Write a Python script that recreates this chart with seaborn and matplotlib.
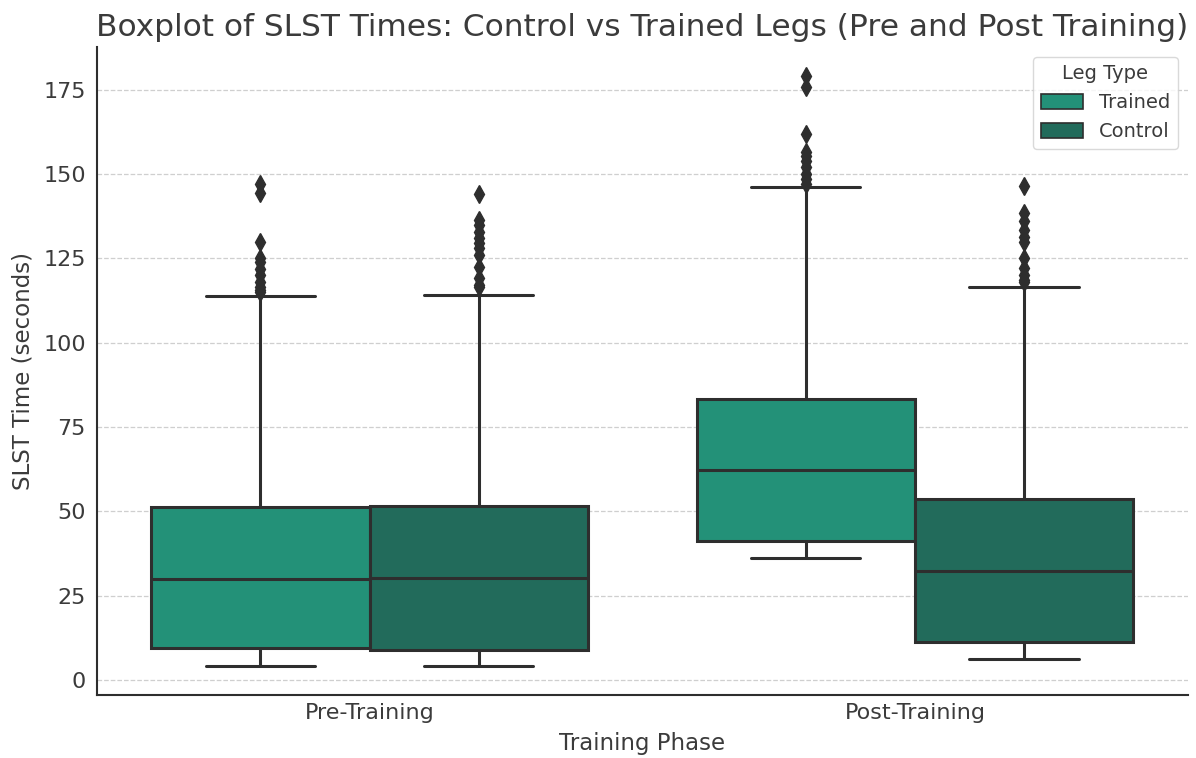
import matplotlib
matplotlib.use("Agg")
from matplotlib import pyplot as plt
import seaborn as sns
import pandas as pd

# box statistics: low whisker, Q1, median, Q3, high whisker
phases = ["Pre-Training", "Post-Training"]
leg_types = ["Trained", "Control"]

pre_trained_stats = [4.2, 9.5, 30.0, 51.4, 114.0]
pre_control_stats = [4.2, 8.9, 30.3, 51.7, 114.2]
post_trained_stats = [36.2, 41.2, 62.3, 83.4, 146.3]
post_control_stats = [6.1, 11.1, 32.4, 53.7, 116.4]

pre_trained_outliers = [147.0, 144.5, 130.0, 125.0, 124.0, 122.0, 120.0, 118.0, 116.5, 115.5, 115.0]
pre_control_outliers = [144.2, 136.5, 135.0, 133.0, 131.0, 129.6, 128.0, 126.0, 122.6, 119.3, 117.2, 116.5]
post_trained_outliers = [179.0, 176.0, 162.0, 156.5, 155.5, 154.0, 152.0, 150.0, 148.5, 147.0]
post_control_outliers = [146.4, 138.4, 136.0, 133.5, 131.5, 130.0, 125.1, 122.1, 120.1, 118.7, 118.0]

TEXT = "#3b3b3b"
LINE = "#2e2e2e"
PALETTE = {"Trained": "#239178", "Control": "#226b5b"}


def build_sample(stats, outliers):
    """Repeat quartile values so the computed box matches the read statistics."""
    low, q1, med, q3, high = stats
    n = len(outliers) + 3
    return [low] + [q1] * n + [med] * n + [q3] * n + [high] + list(outliers)


groups = [
    ("Pre-Training", "Trained", pre_trained_stats, pre_trained_outliers),
    ("Pre-Training", "Control", pre_control_stats, pre_control_outliers),
    ("Post-Training", "Trained", post_trained_stats, post_trained_outliers),
    ("Post-Training", "Control", post_control_stats, post_control_outliers),
]
rows = []
for phase, leg, stats, outliers in groups:
    for v in build_sample(stats, outliers):
        rows.append({"Training Phase": phase, "Leg Type": leg, "SLST Time (seconds)": v})
df = pd.DataFrame(rows)

sns.set_style("white")
plt.rcParams["font.family"] = ["DejaVu Sans"]
plt.rcParams["text.color"] = TEXT
plt.rcParams["axes.labelcolor"] = TEXT
plt.rcParams["xtick.color"] = TEXT
plt.rcParams["ytick.color"] = TEXT

fig, ax = plt.subplots(figsize=(11.96, 7.58), dpi=100)
fig.subplots_adjust(left=0.081, right=0.993, top=0.938, bottom=0.083)

sns.boxplot(data=df, x="Training Phase", y="SLST Time (seconds)", hue="Leg Type",
            order=phases, hue_order=leg_types, palette=PALETTE, saturation=1,
            width=0.8, gap=0, linewidth=2.2, linecolor=LINE,
            flierprops=dict(marker="d", markersize=9, markerfacecolor=LINE,
                            markeredgecolor=LINE),
            ax=ax)

ax.set_axisbelow("line")
ax.yaxis.grid(True, linestyle="--", color="#cfcfcf", linewidth=0.9)
ax.set_title("Boxplot of SLST Times: Control vs Trained Legs (Pre and Post Training)",
             fontsize=22.5, color=TEXT, pad=8)
ax.set_xlabel("Training Phase", fontsize=16.5, labelpad=6)
ax.set_ylabel("SLST Time (seconds)", fontsize=16.5, labelpad=6)
ax.tick_params(axis="both", labelsize=16, direction="in", length=5, color=LINE)
ax.tick_params(axis="x", pad=6)
ax.tick_params(axis="y", length=0, pad=8)
ax.set_yticks([0, 25, 50, 75, 100, 125, 150, 175])
for side in ["top", "right"]:
    ax.spines[side].set_visible(False)
for side in ["left", "bottom"]:
    ax.spines[side].set_color(LINE)
    ax.spines[side].set_linewidth(1.5)

leg = ax.legend(title="Leg Type", loc="upper right", fontsize=14, title_fontsize=14,
                frameon=True, edgecolor="#d0d0d0", handlelength=2.2, handleheight=0.8)
leg.get_frame().set_linewidth(1.0)
for patch in leg.get_patches():
    patch.set_linewidth(1.2)

fig.savefig("out.png", dpi=100)
